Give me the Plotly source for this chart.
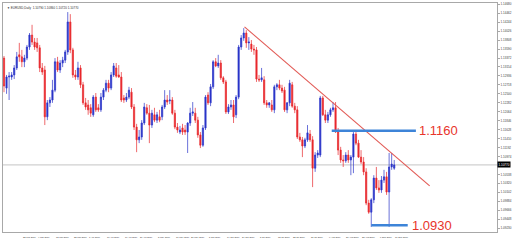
import pandas as pd
import plotly.graph_objects as go

# ---------------- data ----------------
dates = [d.strftime("%Y-%m-%d") for d in pd.bdate_range("2019-02-13", periods=154)]

opens = [1.1337,1.1264,1.1291,1.1291,1.1296,1.1313,1.1345,1.1340,1.1328,1.1337,
         1.1364,1.1393,1.1376,1.1374,1.1362,1.1313,1.1308,1.1194,1.1228,1.1235,
         1.1259,1.1328,1.1308,1.1325,1.1332,1.1352,1.1425,1.1357,1.1296,1.1291,
         1.1313,1.1272,1.1228,1.1223,1.1216,1.1199,1.1242,1.1216,1.1211,1.1242,
         1.1259,1.1276,1.1264,1.1296,1.1313,1.1296,1.1291,1.1240,1.1235,1.1242,
         1.1254,1.1218,1.1169,1.1138,1.1145,1.1179,1.1216,1.1203,1.1174,1.1199,
         1.1186,1.1194,1.1194,1.1218,1.1235,1.1233,1.1235,1.1203,1.1169,1.1157,
         1.1167,1.1162,1.1157,1.1179,1.1203,1.1203,1.1186,1.1150,1.1125,1.1167,
         1.1247,1.1228,1.1267,1.1328,1.1318,1.1325,1.1289,1.1279,1.1206,1.1218,
         1.1223,1.1199,1.1242,1.1364,1.1386,1.1398,1.1374,1.1371,1.1359,1.1357,
         1.1286,1.1284,1.1284,1.1228,1.1223,1.1223,1.1211,1.1267,1.1272,1.1264,
         1.1259,1.1211,1.1228,1.1272,1.1220,1.1211,1.1145,1.1138,1.1123,1.1138,
         1.1152,1.1138,1.1069,1.1101,1.1101,1.1240,1.1199,1.1186,1.1199,1.1211,
         1.1216,1.1157,1.1113,1.1089,1.1087,1.1101,1.1089,1.1096,1.1152,1.1130,
         1.1096,1.1084,1.1060,1.0984,1.0962,1.0992,1.1045,1.1021,1.1016,1.1040,
         1.1048,1.1011,1.1072,1.1069]
highs = [1.1342,1.1296,1.1303,1.1303,1.1320,1.1352,1.1374,1.1357,1.1345,1.1369,
         1.1398,1.1418,1.1386,1.1386,1.1369,1.1325,1.1318,1.1235,1.1242,1.1284,
         1.1337,1.1340,1.1332,1.1340,1.1357,1.1449,1.1444,1.1362,1.1308,1.1328,
         1.1320,1.1279,1.1240,1.1235,1.1225,1.1247,1.1252,1.1225,1.1252,1.1264,
         1.1284,1.1284,1.1303,1.1325,1.1325,1.1320,1.1303,1.1247,1.1252,1.1267,
         1.1264,1.1225,1.1177,1.1162,1.1186,1.1228,1.1225,1.1223,1.1211,1.1216,
         1.1206,1.1211,1.1223,1.1259,1.1247,1.1259,1.1242,1.1211,1.1179,1.1172,
         1.1177,1.1174,1.1181,1.1216,1.1230,1.1216,1.1194,1.1157,1.1174,1.1247,
         1.1254,1.1274,1.1332,1.1337,1.1345,1.1332,1.1293,1.1284,1.1225,1.1235,
         1.1235,1.1247,1.1369,1.1393,1.1410,1.1405,1.1388,1.1381,1.1369,1.1364,
         1.1296,1.1313,1.1293,1.1235,1.1230,1.1235,1.1272,1.1276,1.1284,1.1272,
         1.1267,1.1230,1.1284,1.1279,1.1228,1.1220,1.1155,1.1145,1.1143,1.1174,
         1.1162,1.1147,1.1108,1.1113,1.1245,1.1245,1.1211,1.1206,1.1216,1.1230,
         1.1230,1.1167,1.1121,1.1101,1.1108,1.1113,1.1101,1.1157,1.1162,1.1138,
         1.1113,1.1096,1.1069,1.0992,1.0996,1.1052,1.1072,1.1040,1.1050,1.1065,
         1.1060,1.1106,1.1106,1.1089]
lows = [1.1254,1.1250,1.1235,1.1284,1.1286,1.1308,1.1328,1.1315,1.1315,1.1332,
        1.1357,1.1369,1.1357,1.1352,1.1303,1.1296,1.1174,1.1186,1.1218,1.1228,
        1.1254,1.1303,1.1301,1.1315,1.1325,1.1345,1.1349,1.1289,1.1284,1.1284,
        1.1264,1.1223,1.1211,1.1199,1.1194,1.1194,1.1206,1.1206,1.1206,1.1235,
        1.1254,1.1254,1.1259,1.1291,1.1289,1.1289,1.1230,1.1228,1.1230,1.1237,
        1.1213,1.1162,1.1108,1.1130,1.1138,1.1174,1.1199,1.1130,1.1167,1.1181,
        1.1179,1.1181,1.1186,1.1213,1.1223,1.1225,1.1199,1.1164,1.1155,1.1152,
        1.1150,1.1150,1.1106,1.1172,1.1196,1.1179,1.1143,1.1118,1.1121,1.1162,
        1.1223,1.1220,1.1262,1.1315,1.1313,1.1284,1.1274,1.1201,1.1201,1.1211,
        1.1179,1.1191,1.1237,1.1357,1.1379,1.1362,1.1357,1.1352,1.1345,1.1279,
        1.1279,1.1279,1.1223,1.1216,1.1216,1.1206,1.1203,1.1259,1.1259,1.1252,
        1.1206,1.1203,1.1220,1.1216,1.1203,1.1140,1.1133,1.1096,1.1118,1.1133,
        1.1133,1.1023,1.1060,1.1094,1.1096,1.1196,1.1179,1.1179,1.1194,1.1206,
        1.1155,1.1101,1.1082,1.1072,1.1082,1.1082,1.1052,1.1057,1.1125,1.1094,
        1.1079,1.1052,1.0979,1.0958,1.0926,1.0984,1.1016,1.1009,1.1009,1.1033,
        1.1004,1.0926,1.1065,1.1065]
closes = [1.1269,1.1291,1.1293,1.1296,1.1313,1.1340,1.1340,1.1328,1.1337,1.1364,
          1.1393,1.1376,1.1364,1.1362,1.1313,1.1303,1.1194,1.1228,1.1235,1.1259,
          1.1328,1.1308,1.1325,1.1332,1.1352,1.1425,1.1357,1.1296,1.1291,1.1313,
          1.1272,1.1228,1.1218,1.1211,1.1203,1.1242,1.1211,1.1211,1.1242,1.1259,
          1.1276,1.1264,1.1296,1.1318,1.1293,1.1291,1.1235,1.1235,1.1242,1.1259,
          1.1218,1.1169,1.1138,1.1145,1.1179,1.1218,1.1203,1.1174,1.1203,1.1186,
          1.1199,1.1186,1.1218,1.1235,1.1230,1.1235,1.1203,1.1169,1.1162,1.1162,
          1.1157,1.1157,1.1179,1.1203,1.1206,1.1186,1.1150,1.1125,1.1167,1.1242,
          1.1228,1.1267,1.1328,1.1318,1.1325,1.1289,1.1279,1.1206,1.1218,1.1223,
          1.1194,1.1242,1.1364,1.1386,1.1398,1.1374,1.1376,1.1359,1.1357,1.1286,
          1.1284,1.1289,1.1228,1.1223,1.1228,1.1211,1.1267,1.1272,1.1264,1.1257,
          1.1211,1.1228,1.1276,1.1220,1.1211,1.1145,1.1138,1.1123,1.1138,1.1155,
          1.1138,1.1069,1.1101,1.1106,1.1240,1.1199,1.1186,1.1199,1.1211,1.1216,
          1.1157,1.1113,1.1089,1.1087,1.1101,1.1089,1.1096,1.1152,1.1130,1.1096,
          1.1084,1.1060,1.0984,1.0962,1.0992,1.1045,1.1021,1.1016,1.1040,1.1048,
          1.1011,1.1072,1.1079,1.1077]

price_ticks = [1.14680,1.14462,1.14244,1.14026,1.13808,1.13590,1.13372,1.13154,
               1.12936,1.12718,1.12500,1.12282,1.12064,1.11846,1.11628,1.11410,
               1.11192,1.10974,1.10538,1.10320,1.10102,1.09884,1.09666,
               1.09448,1.09230]
date_label_idx = [0,7,13,20,27,33,40,47,53,60,67,73,80,87,93,100,107,113,120,127,134,140,147,153]

level_hi = 1.1160
level_lo = 1.0930
level_hi_span = (128.5, 161.5)
level_lo_span = (144, 158.3)
trend = ((94.3, 1.1413), (166.9, 1.1026))
current = closes[-1]

# ---------------- figure ----------------
BLUE = "#2a34c8"
RED = "#e8282c"
fig = go.Figure()
fig.add_trace(go.Candlestick(
    x=list(range(len(dates))), open=opens, high=highs, low=lows, close=closes,
    increasing=dict(line=dict(color=BLUE, width=0.7), fillcolor=BLUE),
    decreasing=dict(line=dict(color=RED, width=0.7), fillcolor=RED),
    whiskerwidth=0, hoverinfo="skip", showlegend=False))

shapes = []
shapes.append(dict(type="line", xref="paper", yref="y", x0=0, x1=1, y0=current, y1=current,
                   line=dict(color="#c4c4c4", width=1), layer="below"))
shapes.append(dict(type="line", xref="x", yref="y", x0=trend[0][0], y0=trend[0][1],
                   x1=trend[1][0], y1=trend[1][1], line=dict(color="#e25a55", width=1.1)))
shapes.append(dict(type="line", xref="x", yref="y", x0=level_hi_span[0], x1=level_hi_span[1],
                   y0=level_hi, y1=level_hi, line=dict(color="#3d84d8", width=2.6)))
shapes.append(dict(type="line", xref="x", yref="y", x0=level_lo_span[0], x1=level_lo_span[1],
                   y0=level_lo, y1=level_lo, line=dict(color="#3d84d8", width=2.6)))

annotations = []
annotations.append(dict(x=level_hi_span[1] + 0.3, y=level_hi, xref="x", yref="y", text=f"{level_hi:.4f}",
                        showarrow=False, xanchor="left", yanchor="middle",
                        font=dict(family="Liberation Sans", size=13, color="#e8352b")))
annotations.append(dict(x=level_lo_span[1] + 0.9, y=level_lo, xref="x", yref="y", text=f"{level_lo:.4f}",
                        showarrow=False, xanchor="left", yanchor="middle",
                        font=dict(family="Liberation Sans", size=13, color="#e8352b")))
for i in date_label_idx:
    d = pd.Timestamp(dates[i])
    annotations.append(dict(x=i - 0.5, y=-0.008, xref="x", yref="paper",
                            text=f"{d.day} {d.strftime('%b %Y')}", showarrow=False,
                            xanchor="left", yanchor="top",
                            font=dict(family="Liberation Sans", size=2.3, color="#303030")))
annotations.append(dict(x=0.004, y=0.995, xref="paper", yref="paper",
                        text="▼ EURUSD,Daily  1.10790 1.10860 1.10720 1.10770", showarrow=False,
                        xanchor="left", yanchor="top",
                        font=dict(family="Liberation Sans", size=3, color="#303030")))
annotations.append(dict(x=1.0, y=current, xref="paper", yref="y", text=f"{current:.5f}",
                        showarrow=False, xanchor="left", yanchor="middle", bgcolor="#000000",
                        borderpad=0.5, font=dict(family="Liberation Sans", size=3, color="#ffffff")))

fig.update_layout(
    width=514, height=241,
    margin=dict(l=2, r=13, t=3, b=9),
    paper_bgcolor="white", plot_bgcolor="white",
    shapes=shapes, annotations=annotations,
    xaxis=dict(range=[-0.39, 193.3], showgrid=False, zeroline=False, showticklabels=False,
               rangeslider=dict(visible=False), showline=True, mirror=True,
               linecolor="#a8a8a8", linewidth=1, fixedrange=True),
    yaxis=dict(range=[1.09137, 1.14711], side="right", showgrid=False, zeroline=False,
               tickvals=price_ticks, ticktext=[f"{v:.5f}" for v in price_ticks],
               tickfont=dict(family="Liberation Sans", size=3, color="#404040"),
               ticks="outside", ticklen=2, tickcolor="#a8a8a8",
               showline=True, mirror=True, linecolor="#a8a8a8", linewidth=1, fixedrange=True),
)
fig.write_html("out.html")
